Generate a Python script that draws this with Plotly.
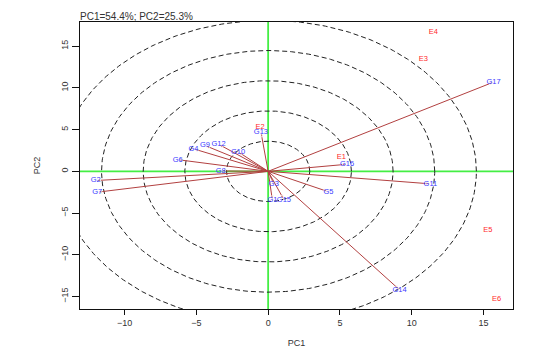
import numpy as np
import plotly.graph_objects as go

# Genotype vectors (PC1, PC2)
g_names = ["G1", "G2", "G3", "G4", "G5", "G6", "G7", "G8", "G9", "G10",
           "G11", "G12", "G13", "G14", "G15", "G16", "G17"]
g_pc1 = [0.3, -12.0, 0.4, -5.2, 4.2, -6.3, -11.9, -3.3, -4.4, -2.1,
         11.3, -3.45, -0.5, 9.15, 1.1, 5.5, 15.7]
g_pc2 = [-3.5, -1.1, -1.55, 2.7, -2.45, 1.4, -2.5, 0.05, 3.1, 2.35,
         -1.5, 3.25, 4.7, -14.2, -3.4, 0.85, 10.7]

# Environment points
e_names = ["E1", "E2", "E3", "E4", "E5", "E6"]
e_pc1 = [5.1, -0.56, 10.8, 11.5, 15.3, 15.9]
e_pc2 = [1.75, 5.3, 13.4, 16.65, -7.1, -15.3]

# Concentric ellipse radii
ell_rx = [2.9, 5.8, 8.7, 11.6, 14.5]
ell_ry = [3.62, 7.24, 10.86, 14.48, 18.1]

x_range = [-13.1, 17.05]
y_range = [-16.5, 17.9]
tick_vals = [-15, -10, -5, 0, 5, 10, 15]

ARROW = "#b24040"
GREEN = "#44ee44"
FONT = "Liberation Sans, Arial"

fig = go.Figure()

# green reference axes
fig.add_trace(go.Scatter(x=[x_range[0] - 1, x_range[1] + 1], y=[0, 0], mode="lines",
                         line=dict(color=GREEN, width=1.8), hoverinfo="skip", showlegend=False))
fig.add_trace(go.Scatter(x=[0, 0], y=[y_range[0] - 1, y_range[1] + 1], mode="lines",
                         line=dict(color=GREEN, width=1.8), hoverinfo="skip", showlegend=False))

# dashed ellipses
t = np.linspace(0, 2 * np.pi, 361)
for rx, ry in zip(ell_rx, ell_ry):
    fig.add_trace(go.Scatter(x=rx * np.cos(t), y=ry * np.sin(t), mode="lines",
                             line=dict(color="#222222", width=1, dash="5px,3px"),
                             hoverinfo="skip", showlegend=False))

# genotype arrows
for nm, px, py in zip(g_names, g_pc1, g_pc2):
    fig.add_trace(go.Scatter(x=[0, px], y=[0, py], mode="lines+markers",
                             line=dict(color=ARROW, width=1),
                             marker=dict(symbol=["circle", "arrow"], size=[0, 5],
                                         angleref="previous", color=ARROW),
                             hoverinfo="skip", showlegend=False))

# labels
fig.add_trace(go.Scatter(x=g_pc1, y=g_pc2, text=g_names, mode="text",
                         textfont=dict(family=FONT, size=7.5, color="#3a3aff"),
                         showlegend=False, cliponaxis=False))
fig.add_trace(go.Scatter(x=e_pc1, y=e_pc2, text=e_names, mode="text",
                         textfont=dict(family=FONT, size=7.5, color="#ff2a2a"),
                         showlegend=False, cliponaxis=False))

axis_common = dict(showgrid=False, zeroline=False, showline=True, linecolor="#111111",
                   linewidth=1, mirror=True, ticks="outside", tickcolor="#111111",
                   tickfont=dict(family=FONT, size=9, color="#333333"),
                   tickvals=tick_vals, automargin=False)

fig.update_layout(
    width=544, height=352,
    margin=dict(l=80, r=31, t=22, b=43),
    paper_bgcolor="white", plot_bgcolor="white",
    title=dict(text="PC1=54.4%; PC2=25.3%", x=80 / 544, xref="container", xanchor="left",
               y=1 - 16.5 / 352, yref="container", yanchor="middle",
               font=dict(family=FONT, size=10, color="#333333")),
    xaxis=dict(range=x_range, ticklen=5,
               title=dict(text="PC1", standoff=12,
                          font=dict(family=FONT, size=9, color="#333333")),
               **axis_common),
    yaxis=dict(range=y_range, ticklen=7, tickangle=-90,
               title=dict(text="PC2", standoff=18,
                          font=dict(family=FONT, size=9, color="#333333")),
               **axis_common),
)

fig.write_html("out.html")
